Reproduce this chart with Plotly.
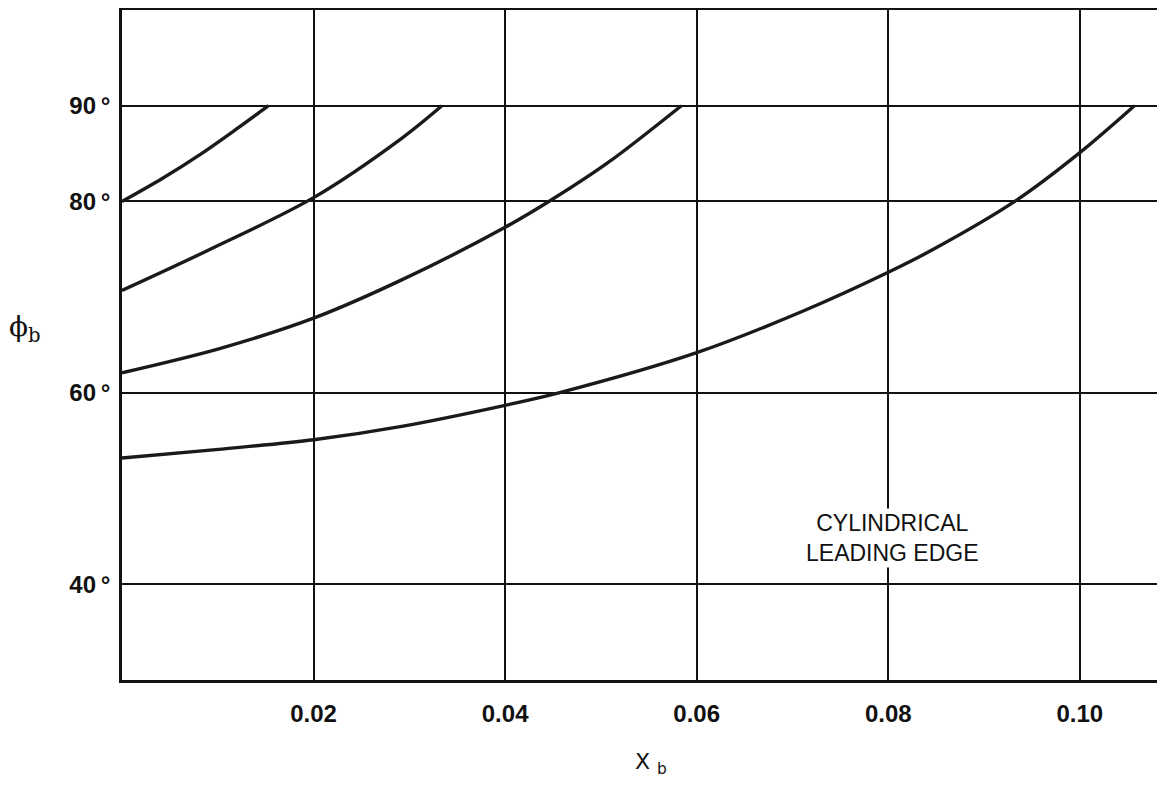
import plotly.graph_objects as go

# Curve data (x_b, phi_b in degrees)
c1_x = [0.0, 0.0042, 0.0083, 0.012, 0.0153]
c1_y = [80.0, 82.4, 85.0, 87.6, 90.0]

c2_x = [0.0, 0.009, 0.02, 0.0292, 0.0334]
c2_y = [70.7, 74.9, 80.4, 86.6, 90.0]

c3_x = [0.0, 0.0101, 0.02, 0.0292, 0.04, 0.0449, 0.0508, 0.0584]
c3_y = [62.1, 64.6, 67.8, 71.8, 77.3, 80.2, 84.1, 90.0]

c4_x = [0.0, 0.0101, 0.02, 0.0292, 0.04, 0.0456, 0.06, 0.071, 0.08, 0.0849, 0.0932, 0.10, 0.1057]
c4_y = [53.2, 54.1, 55.1, 56.5, 58.7, 60.0, 64.2, 68.5, 72.6, 75.1, 80.0, 85.1, 90.0]

x_ticks = [0.02, 0.04, 0.06, 0.08, 0.10]
x_tick_labels = ["0.02", "0.04", "0.06", "0.08", "0.10"]
y_ticks = [40, 60, 80, 90]
y_tick_labels = ["40\u2009°", "60\u2009°", "80\u2009°", "90\u2009°"]

fig = go.Figure()
for xs, ys in [(c1_x, c1_y), (c2_x, c2_y), (c3_x, c3_y), (c4_x, c4_y)]:
    fig.add_trace(go.Scatter(x=xs, y=ys, mode="lines",
                             line=dict(color="#1a1a1a", width=3.4, shape="spline", smoothing=0.9),
                             showlegend=False, hoverinfo="skip"))

tick_font = dict(family="Liberation Sans Narrow, Arial Narrow, Liberation Sans, sans-serif",
                 size=24, color="#111", weight="bold")

fig.update_layout(
    width=1159, height=778,
    margin=dict(l=114, r=0, t=2, b=106),
    paper_bgcolor="white", plot_bgcolor="white",
    xaxis=dict(range=[0, 0.1091], tickvals=x_ticks, ticktext=x_tick_labels,
               showgrid=True, gridcolor="#111", gridwidth=2.2,
               showline=True, linecolor="#111", linewidth=2.6, mirror=True,
               zeroline=False, ticks="", tickfont=tick_font, ticklabelstandoff=10),
    yaxis=dict(range=[30, 100], tickvals=y_ticks, ticktext=y_tick_labels,
               showgrid=True, gridcolor="#111", gridwidth=2.2,
               showline=True, linecolor="#111", linewidth=2.6, mirror=False,
               zeroline=False, ticks="", tickfont=tick_font, ticklabelstandoff=4),
    annotations=[
        dict(text="CYLINDRICAL<br>LEADING EDGE", xref="x", yref="y", x=0.0804, y=44.8,
             showarrow=False, align="center", bgcolor="white",
             font=dict(family="Liberation Sans, DejaVu Sans, sans-serif", size=23,
                       color="#111", weight=500)),
        dict(text="ϕ<sub>b</sub>", xref="paper", yref="paper", x=-0.110, y=0.525,
             showarrow=False,
             font=dict(family="DejaVu Serif, Liberation Serif, serif", size=28, color="#111")),
        dict(text="X <sub>b</sub>", xref="paper", yref="paper", x=0.506, y=-0.149,
             showarrow=False,
             font=dict(family="DejaVu Sans, sans-serif", size=22, color="#111")),
    ],
)

fig.write_html("out.html")
